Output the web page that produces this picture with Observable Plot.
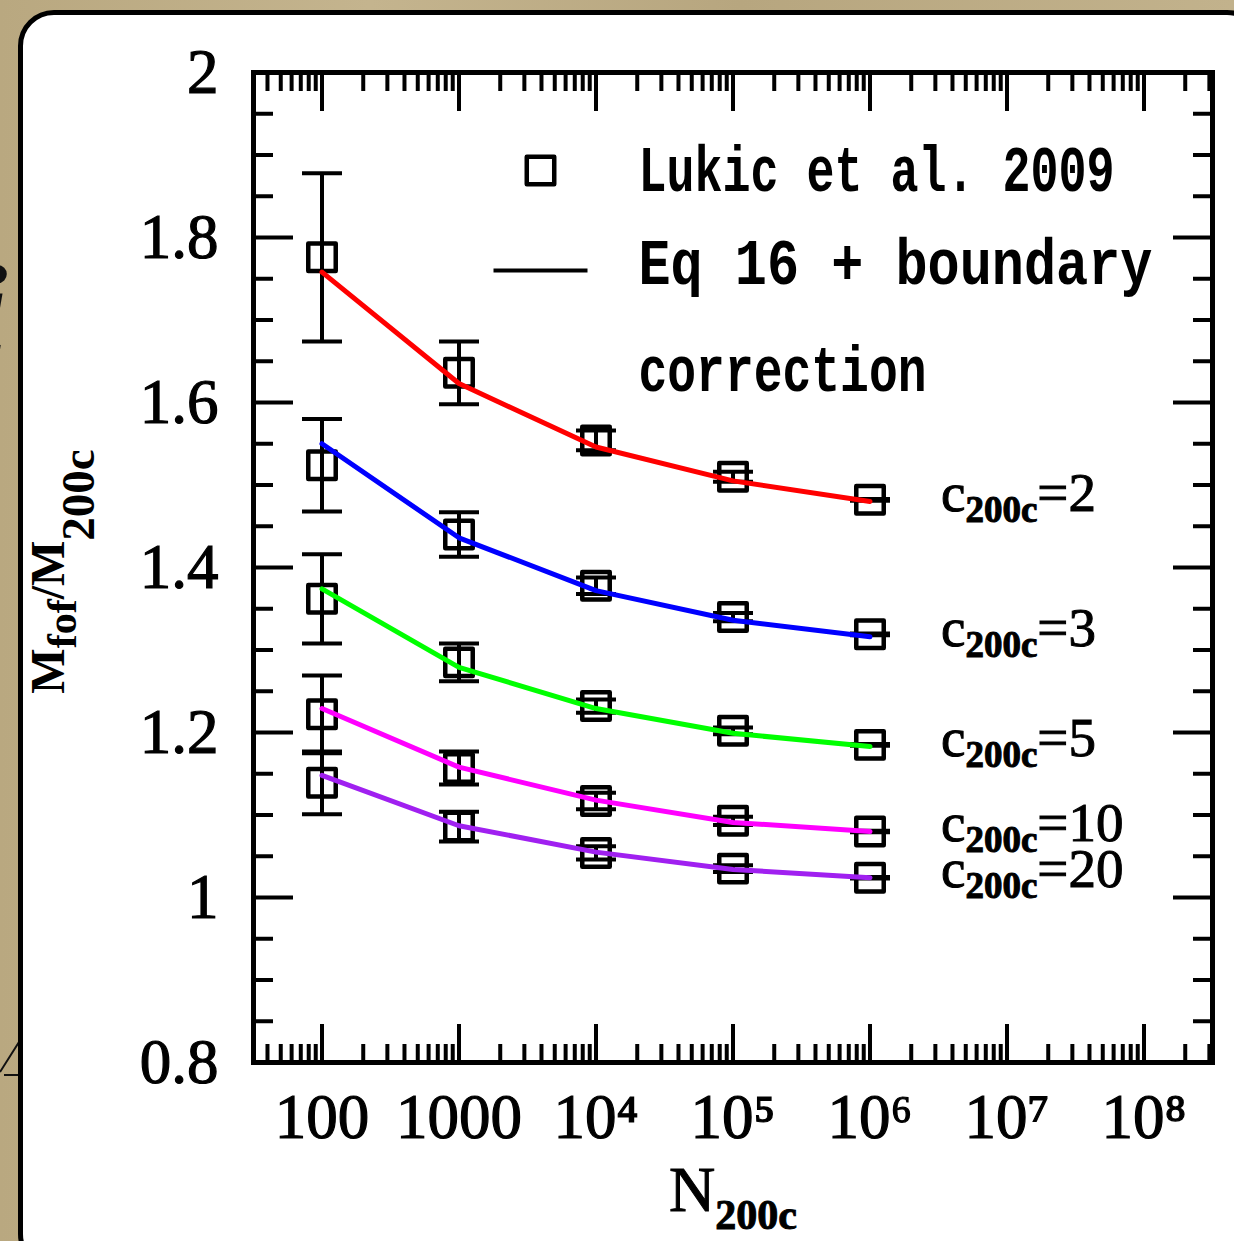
<!DOCTYPE html>
<html>
<head>
<meta charset="utf-8">
<script src="https://cdn.jsdelivr.net/npm/d3@7"></script>
<script src="https://cdn.jsdelivr.net/npm/@observablehq/plot@0.6"></script>
<style>
  html, body { margin: 0; padding: 0; }
  body {
    width: 1234px; height: 1241px; overflow: hidden; position: relative;
    background: linear-gradient(90deg, #b9a880 0%, #c4b48e 30%, #b7a67f 60%, #c2b28c 100%);
  }
  .deco { position: absolute; font-family: "Liberation Serif", serif; font-style: italic; font-weight: bold; color: #111; }
  #panel {
    position: absolute; left: 18px; top: 10px; width: 1245px; height: 1260px;
    box-sizing: border-box; border: 5px solid #000; border-radius: 36px; background: #fff;
  }
  #chart { position: absolute; left: 0; top: 0; }
  #chart g[aria-label="x-axis tick label"] text,
  #chart g[aria-label="y-axis tick label"] text { stroke: #000; stroke-width: 1.2px; }
  #chart text.heavy { stroke: #000; stroke-width: 1px; }
</style>
</head>
<body>
<div class="deco" style="left:-52px; top:125px; font-size:120px;">c</div>
<div class="deco" style="left:-26px; top:240px; font-size:120px;">i</div>
<div class="deco" style="left:-52px; top:705px; font-size:120px;">e</div>
<svg style="position:absolute;left:0;top:1030px" width="20" height="50"><path d="M0,42 L19,12 M4,45 L19,45" stroke="#111" stroke-width="2" fill="none"/></svg>
<div id="panel"></div>
<div id="chart"></div>
<script>
// ---------------- data ----------------
const nValues = [100, 1000, 1e4, 1e5, 1e6];
const concentrations = ["2", "3", "5", "10", "20"];
const lineColors = ["#ff0000", "#0000ff", "#00ff00", "#ff00ff", "#a020f0"];

// Lukic et al. 2009 measurements (squares) and their error half-widths
const lukic_c2  = [1.776, 1.636, 1.554, 1.510, 1.482];
const lukic_c3  = [1.524, 1.440, 1.378, 1.340, 1.319];
const lukic_c5  = [1.362, 1.285, 1.232, 1.202, 1.185];
const lukic_c10 = [1.222, 1.157, 1.117, 1.093, 1.080];
const lukic_c20 = [1.139, 1.086, 1.054, 1.035, 1.024];
const err_c2  = [0.102, 0.038, 0.012, 0.006, 0.001];
const err_c3  = [0.056, 0.027, 0.010, 0.005, 0.001];
const err_c5  = [0.054, 0.023, 0.008, 0.004, 0.001];
const err_c10 = [0.047, 0.020, 0.010, 0.005, 0.001];
const err_c20 = [0.038, 0.018, 0.008, 0.004, 0.001];

// Eq 16 + boundary correction (lines)
const model_c2  = [1.758, 1.623, 1.546, 1.505, 1.480];
const model_c3  = [1.550, 1.436, 1.372, 1.336, 1.316];
const model_c5  = [1.374, 1.279, 1.229, 1.199, 1.183];
const model_c10 = [1.229, 1.158, 1.118, 1.091, 1.080];
const model_c20 = [1.148, 1.087, 1.055, 1.034, 1.024];

const xMajorTicks = [100, 1000, 1e4, 1e5, 1e6, 1e7, 1e8];
const xTickLabels = ["100", "1000", "10\u2074", "10\u2075", "10\u2076", "10\u2077", "10\u2078"];
const yMajorTicks = [0.8, 1, 1.2, 1.4, 1.6, 1.8, 2];
const yTickLabels = ["0.8", "1", "1.2", "1.4", "1.6", "1.8", "2"];

const legendLabels = ["Lukic et al. 2009", "Eq 16 + boundary", "correction"];
const xLabelParts = ["N", "200c"];
const yLabelParts = ["M", "fof", "/M", "200c"];
const curveLabelParts = ["c", "200c", "="];

// ---------------- derived tables ----------------
const lukic = [lukic_c2, lukic_c3, lukic_c5, lukic_c10, lukic_c20];
const errs = [err_c2, err_c3, err_c5, err_c10, err_c20];
const models = [model_c2, model_c3, model_c5, model_c10, model_c20];

const obsRows = [];
const modelRows = [];
concentrations.forEach((c, k) => {
  nValues.forEach((n, i) => {
    obsRows.push({c, n, v: lukic[k][i], lo: lukic[k][i] - errs[k][i], hi: lukic[k][i] + errs[k][i]});
    modelRows.push({c, n, v: models[k][i]});
  });
});
const labelRows = concentrations.map((c, k) => ({c, n: nValues[nValues.length - 1], v: models[k][nValues.length - 1]}));

const xMinorTicks = [];
for (let e = 1; e <= 8; e++) for (let m = 2; m <= 9; m++) {
  const v = m * Math.pow(10, e);
  if (v > Math.pow(10, 1.5) && v < Math.pow(10, 8.5)) xMinorTicks.push(v);
}
const yMinorTicks = d3.range(16, 41).map(i => i * 0.05).filter(v => Math.abs(v * 5 - Math.round(v * 5)) > 1e-6);

const xLabelMap = new Map(xMajorTicks.map((d, i) => [d, xTickLabels[i]]));
const yLabelMap = new Map(yMajorTicks.map((d, i) => [d, yTickLabels[i]]));

const capSymbol = {draw(ctx, size) { const h = Math.sqrt(size / Math.PI); ctx.moveTo(-h, 0); ctx.lineTo(h, 0); }};

const tickOpts = {tickFormat: () => "", label: null, stroke: "black"};

const chart = Plot.plot({
  width: 1234, height: 1241,
  marginLeft: 253, marginRight: 22, marginTop: 72, marginBottom: 179,
  x: {type: "log", domain: [Math.pow(10, 1.5), Math.pow(10, 8.5)]},
  y: {domain: [0.8, 2]},
  color: {domain: concentrations, range: lineColors},
  style: {background: "transparent", color: "black", fontFamily: "Liberation Serif", overflow: "visible"},
  marks: [
    // inward ticks
    Plot.axisX({...tickOpts, anchor: "bottom", ticks: xMajorTicks, tickSize: 38, dy: -38, strokeWidth: 4}),
    Plot.axisX({...tickOpts, anchor: "bottom", ticks: xMinorTicks, tickSize: 18, dy: -18, strokeWidth: 4}),
    Plot.axisX({...tickOpts, anchor: "top", ticks: xMajorTicks, tickSize: 38, dy: 38, strokeWidth: 4}),
    Plot.axisX({...tickOpts, anchor: "top", ticks: xMinorTicks, tickSize: 18, dy: 18, strokeWidth: 4}),
    Plot.axisY({...tickOpts, anchor: "left", ticks: yMajorTicks, tickSize: 40, dx: 40, strokeWidth: 4}),
    Plot.axisY({...tickOpts, anchor: "left", ticks: yMinorTicks, tickSize: 20, dx: 20, strokeWidth: 4}),
    Plot.axisY({...tickOpts, anchor: "right", ticks: yMajorTicks, tickSize: 40, dx: -40, strokeWidth: 4}),
    Plot.axisY({...tickOpts, anchor: "right", ticks: yMinorTicks, tickSize: 20, dx: -20, strokeWidth: 4}),
    // tick labels
    Plot.axisX({anchor: "bottom", ticks: xMajorTicks, tickSize: 0, tickPadding: 31, label: null,
      tickFormat: d => xLabelMap.get(d), fontSize: 63, fontFamily: "Liberation Serif", fill: "black"}),
    Plot.axisY({anchor: "left", ticks: yMajorTicks, tickSize: 0, tickPadding: 35, label: null,
      tickFormat: d => yLabelMap.get(d), fontSize: 63, fontFamily: "Liberation Serif", fill: "black"}),
    Plot.frame({stroke: "black", strokeWidth: 5}),
    // error bars
    Plot.ruleX(obsRows, {x: "n", y1: "lo", y2: "hi", stroke: "black", strokeWidth: 4}),
    Plot.dot(obsRows, {x: "n", y: "lo", symbol: capSymbol, r: 20, fill: "none", stroke: "black", strokeWidth: 4}),
    Plot.dot(obsRows, {x: "n", y: "hi", symbol: capSymbol, r: 20, fill: "none", stroke: "black", strokeWidth: 4}),
    // squares
    Plot.dot(obsRows, {x: "n", y: "v", symbol: "square", r: 15.5, fill: "none", stroke: "black", strokeWidth: 4.5, strokeLinejoin: "round"}),
    // model lines
    Plot.line(modelRows, {x: "n", y: "v", z: "c", stroke: "c", strokeWidth: 5}),
    // curve labels
    Plot.text(labelRows, {x: "n", y: "v", text: d => curveLabelParts[0] + "|" + curveLabelParts[1] + "|" + curveLabelParts[2] + d.c,
      dx: 71, dy: 9, lineAnchor: "bottom", textAnchor: "start", fontSize: 55, fontFamily: "Liberation Serif", fill: "black"}),
    // legend
    Plot.dot([null], {frameAnchor: "top-left", dx: 287, dy: 98, symbol: "square", r: 15.5, fill: "none", stroke: "black", strokeWidth: 4.5, strokeLinejoin: "round"}),
    Plot.dot([null], {frameAnchor: "top-left", dx: 287, dy: 198, symbol: capSymbol, r: 47, fill: "none", stroke: "black", strokeWidth: 4}),
    Plot.text([legendLabels[0]], {text: d => d, frameAnchor: "top-left", dx: 385, dy: 118, lineAnchor: "bottom", textAnchor: "start",
      fontSize: 65, fontFamily: "Liberation Mono", fontWeight: "bold", fill: "black"}),
    Plot.text([legendLabels[1]], {text: d => d, frameAnchor: "top-left", dx: 385, dy: 211, lineAnchor: "bottom", textAnchor: "start",
      fontSize: 65, fontFamily: "Liberation Mono", fontWeight: "bold", fill: "black"}),
    Plot.text([legendLabels[2]], {text: d => d, frameAnchor: "top-left", dx: 385, dy: 318, lineAnchor: "bottom", textAnchor: "start",
      fontSize: 65, fontFamily: "Liberation Mono", fontWeight: "bold", fill: "black"}),
    // axis titles
    Plot.text([yLabelParts.join("|")], {text: d => d, frameAnchor: "left", dx: -190, dy: 4, rotate: -90, lineAnchor: "bottom", textAnchor: "middle",
      fontSize: 48, fontWeight: "bold", fontFamily: "Liberation Serif", fill: "black"}),
    Plot.text([xLabelParts.join("|")], {text: d => d, frameAnchor: "bottom", dy: 148, lineAnchor: "bottom", textAnchor: "middle",
      fontSize: 64, fontFamily: "Liberation Serif", fill: "black"})
  ]
});

document.getElementById("chart").appendChild(chart);

// ---------------- rich text post-processing (subscripts, legend widths) ----------------
const NS = "http://www.w3.org/2000/svg";
const subStyles = {
  c: [{size: 37, weight: "bold", shift: 11}],
  N: [{size: 42, weight: "bold", shift: 18}],
  M: [{size: 42, weight: "bold", shift: 12}, {size: 47, weight: "bold", shift: 30}]
};
chart.querySelectorAll("text").forEach(t => {
  const content = t.textContent;
  const parts = content.split("|");
  if (parts.length >= 2) {
    const subs = subStyles[parts[0]];
    if (!subs) return;
    if (parts[0] !== "M") t.classList.add("heavy");
    t.textContent = "";
    let cur = 0;
    parts.forEach((p, i) => {
      const ts = document.createElementNS(NS, "tspan");
      ts.textContent = p;
      if (i % 2 === 1) {
        const s = subs[(i - 1) / 2];
        ts.setAttribute("font-size", s.size);
        ts.setAttribute("font-weight", s.weight);
        ts.setAttribute("dy", s.shift - cur);
        cur = s.shift;
      } else if (i > 0) {
        ts.setAttribute("dy", -cur);
        cur = 0;
      }
      t.appendChild(ts);
    });
    return;
  }
  const li = legendLabels.indexOf(content);
  if (li >= 0) {
    const legendWidths = [476, 514, 288];
    t.setAttribute("textLength", legendWidths[li]);
    t.setAttribute("lengthAdjust", "spacingAndGlyphs");
  }
});
</script>
</body>
</html>
